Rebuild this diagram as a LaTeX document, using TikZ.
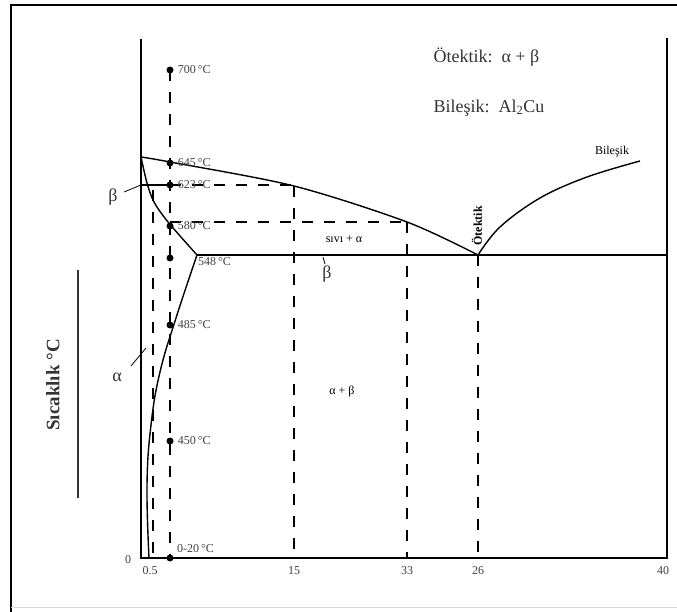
\documentclass[tikz,border=0pt]{standalone}
\usepackage{fontspec}
\setmainfont{Liberation Serif}
\usetikzlibrary{positioning}

\begin{document}
\begin{tikzpicture}[
  x=1pt, y=-1pt,
  axis/.style={line width=1.8pt},
  curve/.style={line width=1.4pt},
  guide/.style={line width=1.6pt, dash pattern=on 11pt off 11pt},
  dot/.style={circle, fill, inner sep=0pt, minimum size=7pt},
  temp/.style={anchor=west, inner sep=1pt, text=black!75, font=\fontsize{12}{14}\selectfont},
  tick/.style={inner sep=1pt, text=black!75, font=\fontsize{12}{14}\selectfont},
  phase/.style={inner sep=1pt, text=black!80, font=\fontsize{18}{20}\selectfont},
  every node/.style={font=\fontsize{12}{14}\selectfont}
]
  \useasboundingbox (0,0) rectangle (677,612);

  % Frame
  \draw[line width=1.5pt] (11,612) -- (11,5) -- (677,5);
  \draw[line width=1pt, black!15] (11,607) -- (677,607);

  % Axes
  \coordinate (o) at (141,558);
  \coordinate (top) at (141,39);
  \coordinate (xend) at (667,558);
  \coordinate (rtop) at (667,38);
  \draw[axis] (top) -- (o) -- (xend) -- (rtop);

  % Key points
  \coordinate (melt) at (141,157);
  \coordinate (eut) at (478,255);
  \coordinate (solv) at (197,255);
  \coordinate (cmp) at (640,161);

  % Eutectic line
  \draw[curve] (solv) -- (eut) -- (xend |- eut);

  % Liquidus
  \draw[curve] plot[smooth, tension=0.5] coordinates
    {(141,157) (170,162) (294,186) (407,222) (478,255)};
  \draw[curve] plot[smooth, tension=0.6] coordinates
    {(478,255) (500,227) (540,198) (587,177) (640,161)};

  % Solidus / solvus
  \draw[curve] plot[smooth, tension=0.5] coordinates
    {(141,157) (147,183) (154,202) (168,222) (197,255)};
  \draw[curve] plot[smooth, tension=0.7] coordinates
    {(197,255) (176,318) (160,372) (151,425) (147,485) (149,558)};

  % Guides
  \draw[guide] (153,190) -- (153,558);
  \draw[guide] (170,70) -- (170,558);
  \draw[guide] (294,186) -- (294,558);
  \draw[guide] (407,222) -- (407,558);
  \draw[guide] (eut) -- (eut |- o);
  \draw[curve] (141,185) -- (170,185);
  \draw[guide] (170,185) -- (294,185);
  \draw[guide] (170,222) -- (407,222);

  % Temperature points
  \foreach \y/\t/\n in {70/700/t700, 163/645/t645, 185/623/t623, 226/580/t580,
                        325/485/t485, 441/450/t450} {
    \node[dot] (\n) at (170,\y) {};
    \node[temp, right=3pt of \n] {\t\,°C};
  }
  \node[dot] (t548) at (170,258) {};
  \node[temp] (l548) at (197,262) {548\,°C};
  \node[dot] (t020) at (170,558) {};
  \node[temp] (l020) at (176,549) {0-20\,°C};

  % Axis labels
  \node[tick] (x0) at (128,560) {0};
  \node[tick] (x05) at (150,571) {0.5};
  \node[tick] (x15) at (294,571) {15};
  \node[tick] (x33) at (407,571) {33};
  \node[tick] (x26) at (478,571) {26};
  \node[tick] (x40) at (663,571) {40};
  \draw[line width=2pt, black!80] (78,270) -- (78,498);
  \node[rotate=90, font=\fontsize{19}{21}\selectfont\bfseries, text=black!80]
    (ylab) at (53,385) {Sıcaklık °C};

  % Phase labels
  \node[phase] (beta1) at (113,197) {β};
  \draw[line width=0.8pt] (124,192) -- (141,185);
  \node[phase] (alpha) at (117,377) {α};
  \draw[line width=0.8pt] (131,366) -- (146,348);
  \node[phase] (beta2) at (327,274) {β};
  \draw[line width=0.8pt] (323,257) -- (325,264);
  \node (liq) at (344,239) {sıvı + α};
  \node (ab) at (342,392) {α + β};
  \node[rotate=90, anchor=west, font=\fontsize{12}{14}\selectfont\bfseries]
    (eutlab) at (477,249) {Ötektik};
  \node (cmplab) at (612,152) {Bileşik};

  % Legend
  \node[anchor=west, font=\fontsize{18}{20}\selectfont, text=black!80]
    (leg1) at (430,57) {Ötektik:\enspace α + β};
  \node[anchor=west, font=\fontsize{18}{20}\selectfont, text=black!80]
    (leg2) at (430,108) {Bileşik:\enspace Al\textsubscript{2}Cu};
\end{tikzpicture}
\end{document}
